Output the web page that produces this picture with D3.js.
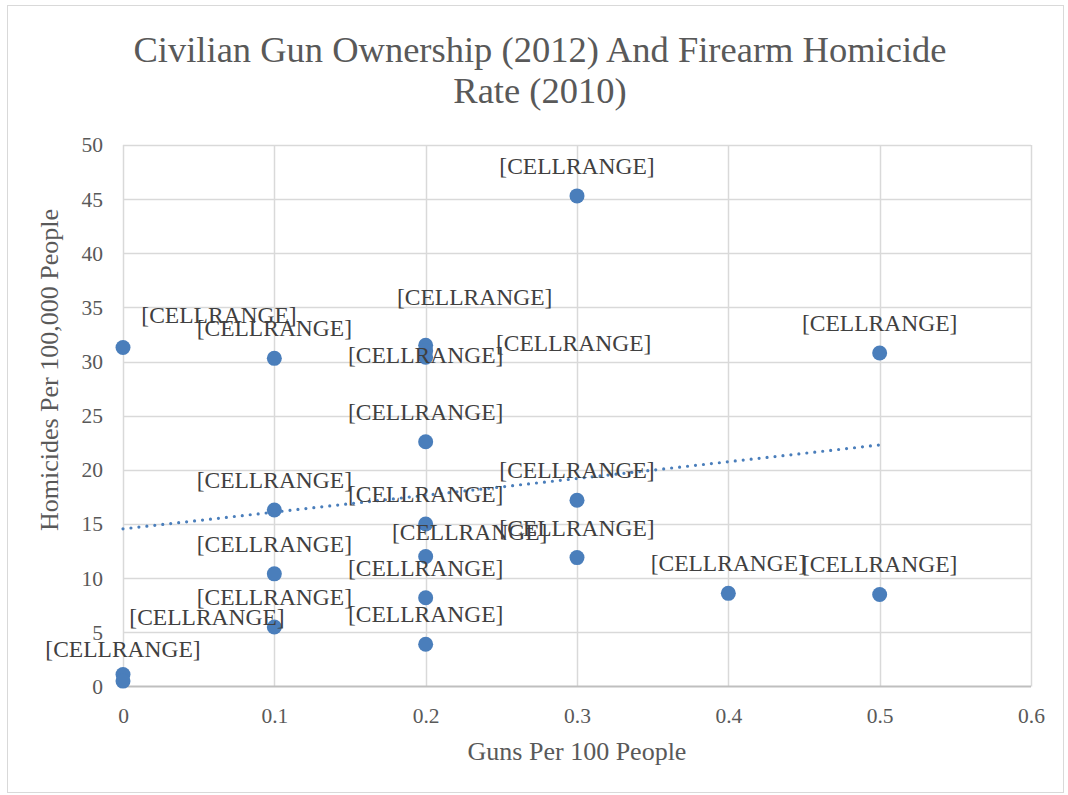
<!DOCTYPE html>
<html>
<head>
<meta charset="utf-8">
<script src="https://cdn.jsdelivr.net/npm/d3@7/dist/d3.min.js"></script>
<style>
  html, body { margin: 0; padding: 0; background: #ffffff; }
  svg text { font-family: "Liberation Serif", "Times New Roman", serif; }
</style>
</head>
<body>
<svg id="chart" width="1068" height="795"></svg>
<script>
// Guns per 100 people (x) and firearm homicides per 100,000 people (y)
const gunsPer100 = [0, 0, 0, 0.1, 0.1, 0.1, 0.1, 0.2, 0.2, 0.2, 0.2, 0.2, 0.2, 0.2, 0.2, 0.3, 0.3, 0.3, 0.4, 0.5, 0.5];
const homicidesPer100k = [31.3, 1.1, 0.5, 30.3, 16.3, 10.4, 5.5, 31.5, 31.0, 30.4, 22.6, 15.0, 12.0, 8.2, 3.9, 45.3, 17.2, 11.9, 8.6, 30.8, 8.5];
const pointLabels = gunsPer100.map(() => "[CELLRANGE]");

const xTicks = [0, 0.1, 0.2, 0.3, 0.4, 0.5, 0.6];
const yTicks = [0, 5, 10, 15, 20, 25, 30, 35, 40, 45, 50];

const titleLines = ["Civilian Gun Ownership (2012) And Firearm Homicide", "Rate (2010)"];
const xTitle = "Guns Per 100 People";
const yTitle = "Homicides Per 100,000 People";

// Label placement tweaks for labels that were dragged off their default spot
const labelNudge = {
  0: [96, -3],
  1: [0, 4],
  2: [84, -34],
  7: [49, -18],
  8: [148, 22],
  9: [0, 28],
  12: [44, 5]
};

const svg = d3.select("#chart");
const plot = { left: 123, right: 1031, top: 145, bottom: 686.5 };

const x = d3.scaleLinear().domain([0, 0.6]).range([plot.left, plot.right]);
const y = d3.scaleLinear().domain([0, 50]).range([plot.bottom, plot.top]);

const textColor = "#595959";
const gridColor = "#d9d9d9";
const pointColor = "#4a7ebb";

// Outer chart frame
svg.append("rect")
  .attr("x", 7.5).attr("y", 5.5).attr("width", 1056).attr("height", 787)
  .attr("fill", "#fff").attr("stroke", gridColor).attr("stroke-width", 1);

// Gridlines
svg.append("g").selectAll("line.h").data(yTicks.filter(d => d > 0)).join("line")
  .attr("x1", plot.left).attr("x2", plot.right)
  .attr("y1", d => Math.round(y(d)) + 0.5).attr("y2", d => Math.round(y(d)) + 0.5)
  .attr("stroke", gridColor).attr("stroke-width", 1.5);
svg.append("g").selectAll("line.v").data(xTicks).join("line")
  .attr("x1", d => Math.round(x(d)) + 0.5).attr("x2", d => Math.round(x(d)) + 0.5)
  .attr("y1", plot.top).attr("y2", plot.bottom)
  .attr("stroke", gridColor).attr("stroke-width", 1.5);

// Bottom axis line
svg.append("line")
  .attr("x1", plot.left).attr("x2", plot.right)
  .attr("y1", plot.bottom).attr("y2", plot.bottom)
  .attr("stroke", "#bfbfbf").attr("stroke-width", 2);

// Axes (labels only, Excel style)
const xAxis = svg.append("g").attr("transform", `translate(0,${plot.bottom})`)
  .call(d3.axisBottom(x).tickValues(xTicks).tickFormat(d => d3.format("")(+d.toFixed(1))).tickSize(0).tickPadding(21));
const yAxis = svg.append("g").attr("transform", `translate(${plot.left},0)`)
  .call(d3.axisLeft(y).tickValues(yTicks).tickSize(0).tickPadding(20));
[xAxis, yAxis].forEach(g => {
  g.select(".domain").remove();
  g.selectAll("text")
    .attr("fill", textColor)
    .style("font-family", "'Liberation Serif', 'Times New Roman', serif")
    .style("font-size", "21.5px");
});

// Linear trendline (least squares)
const n = gunsPer100.length;
const mx = d3.mean(gunsPer100), my = d3.mean(homicidesPer100k);
let sxy = 0, sxx = 0;
for (let i = 0; i < n; i++) {
  sxy += (gunsPer100[i] - mx) * (homicidesPer100k[i] - my);
  sxx += (gunsPer100[i] - mx) ** 2;
}
const slope = sxy / sxx, intercept = my - slope * mx;
const xr = d3.extent(gunsPer100);
svg.append("line")
  .attr("x1", x(xr[0])).attr("y1", y(intercept + slope * xr[0]))
  .attr("x2", x(xr[1])).attr("y2", y(intercept + slope * xr[1]))
  .attr("stroke", pointColor).attr("stroke-width", 3.2)
  .attr("stroke-linecap", "round").attr("stroke-dasharray", "0 8");

// Points
const pts = gunsPer100.map((g, i) => ({ g, h: homicidesPer100k[i], label: pointLabels[i], i }));
svg.append("g").selectAll("circle").data(pts).join("circle")
  .attr("cx", d => x(d.g)).attr("cy", d => y(d.h)).attr("r", 7.5)
  .attr("fill", pointColor);

// Data labels
svg.append("g").selectAll("text").data(pts).join("text")
  .attr("x", d => x(d.g) + (labelNudge[d.i] ? labelNudge[d.i][0] : 0))
  .attr("y", d => y(d.h) - 22 + (labelNudge[d.i] ? labelNudge[d.i][1] : 0))
  .attr("text-anchor", "middle")
  .attr("fill", "#404040")
  .style("font-size", "23.5px")
  .text(d => d.label);

// Chart title
svg.append("text")
  .attr("text-anchor", "middle").attr("fill", textColor)
  .style("font-size", "36.5px")
  .selectAll("tspan").data(titleLines).join("tspan")
  .attr("x", 540).attr("y", (d, i) => 62 + i * 41)
  .text(d => d);

// Axis titles
svg.append("text")
  .attr("x", x(0.3)).attr("y", 760)
  .attr("text-anchor", "middle").attr("fill", textColor)
  .style("font-size", "26px")
  .text(xTitle);
svg.append("text")
  .attr("transform", `translate(58,${(205 + 535) / 2}) rotate(-90)`)
  .attr("text-anchor", "middle").attr("fill", textColor)
  .style("font-size", "26px")
  .text(yTitle);
</script>
</body>
</html>
